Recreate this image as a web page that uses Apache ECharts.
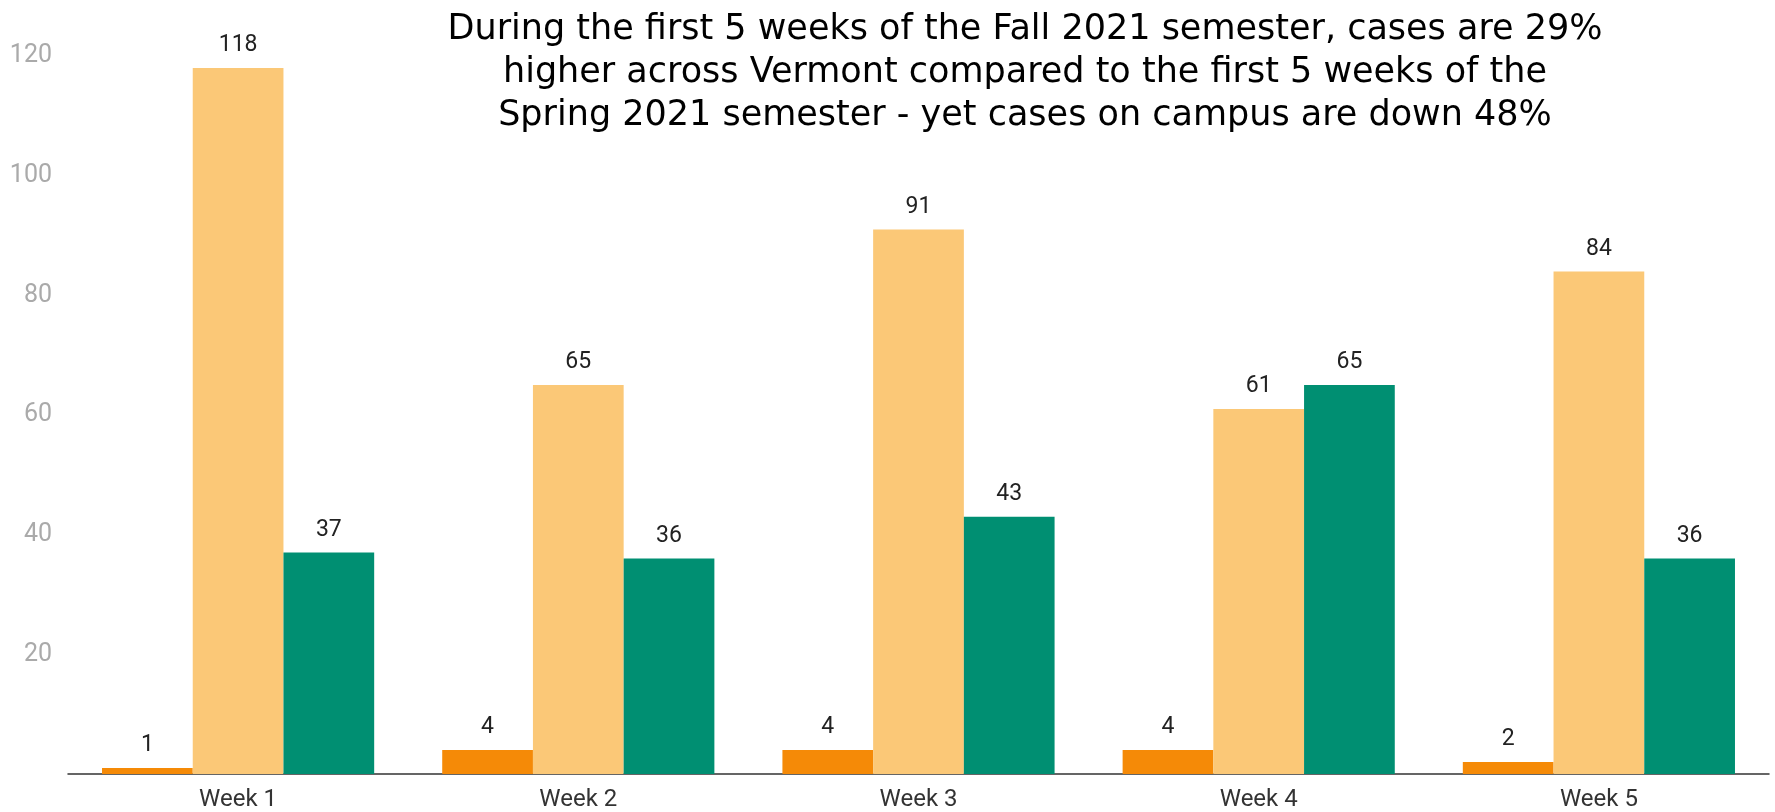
<!DOCTYPE html>
<html>
<head>
<meta charset="utf-8">
<script src="https://cdn.jsdelivr.net/npm/echarts@6/dist/echarts.min.js"></script>
<style>
  html, body { margin: 0; padding: 0; background: #fff; }
  #chart { width: 1775px; height: 812px; }
</style>
</head>
<body>
<div id="chart"></div>
<script>
// weekly case counts
var weeks = ['Week 1', 'Week 2', 'Week 3', 'Week 4', 'Week 5'];
var campusFall = [1, 4, 4, 4, 2];
var vermontFall = [118, 65, 91, 61, 84];
var campusSpring = [37, 36, 43, 65, 36];
var yTicks = [0, 20, 40, 60, 80, 100, 120];

var titleText = 'During the first 5 weeks of the Fall 2021 semester, cases are 29%\n' +
  'higher across Vermont compared to the first 5 weeks of the\n' +
  'Spring 2021 semester - yet cases on campus are down 48%';

var chart = echarts.init(document.getElementById('chart'));

function barSeries(name, data, color) {
  return {
    name: name,
    type: 'bar',
    data: data,
    barGap: '0%',
    barCategoryGap: '20%',
    itemStyle: { color: color },
    label: {
      show: true,
      position: 'top',
      distance: 11,
      color: '#222',
      fontFamily: 'Roboto',
      fontSize: 23
    }
  };
}

chart.setOption({
  animation: false,
  title: {
    text: titleText,
    left: 1020,
    top: 3,
    textAlign: 'center',
    textStyle: {
      fontFamily: 'DejaVu Sans',
      fontWeight: 'normal',
      fontSize: 35,
      lineHeight: 43,
      color: '#000'
    }
  },
  grid: { left: 68, right: 6, top: 56, bottom: 38 },
  xAxis: {
    type: 'category',
    data: weeks,
    axisTick: { show: false },
    axisLine: { lineStyle: { color: '#333', width: 1.5 } },
    axisLabel: { color: '#333', fontFamily: 'Roboto', fontSize: 24, margin: 14 }
  },
  yAxis: {
    type: 'value',
    min: yTicks[0],
    max: yTicks[yTicks.length - 1],
    interval: 20,
    splitLine: { show: false },
    axisLine: { show: false },
    axisTick: { show: false },
    axisLabel: {
      showMinLabel: false,
      color: '#aaa',
      fontFamily: 'Roboto',
      fontSize: 25,
      margin: 16
    }
  },
  series: [
    barSeries('Campus cases (Fall 2021)', campusFall, '#F58A07'),
    barSeries('Vermont cases (Fall 2021)', vermontFall, '#FBC877'),
    barSeries('Campus cases (Spring 2021)', campusSpring, '#008F72')
  ]
});
</script>
</body>
</html>
